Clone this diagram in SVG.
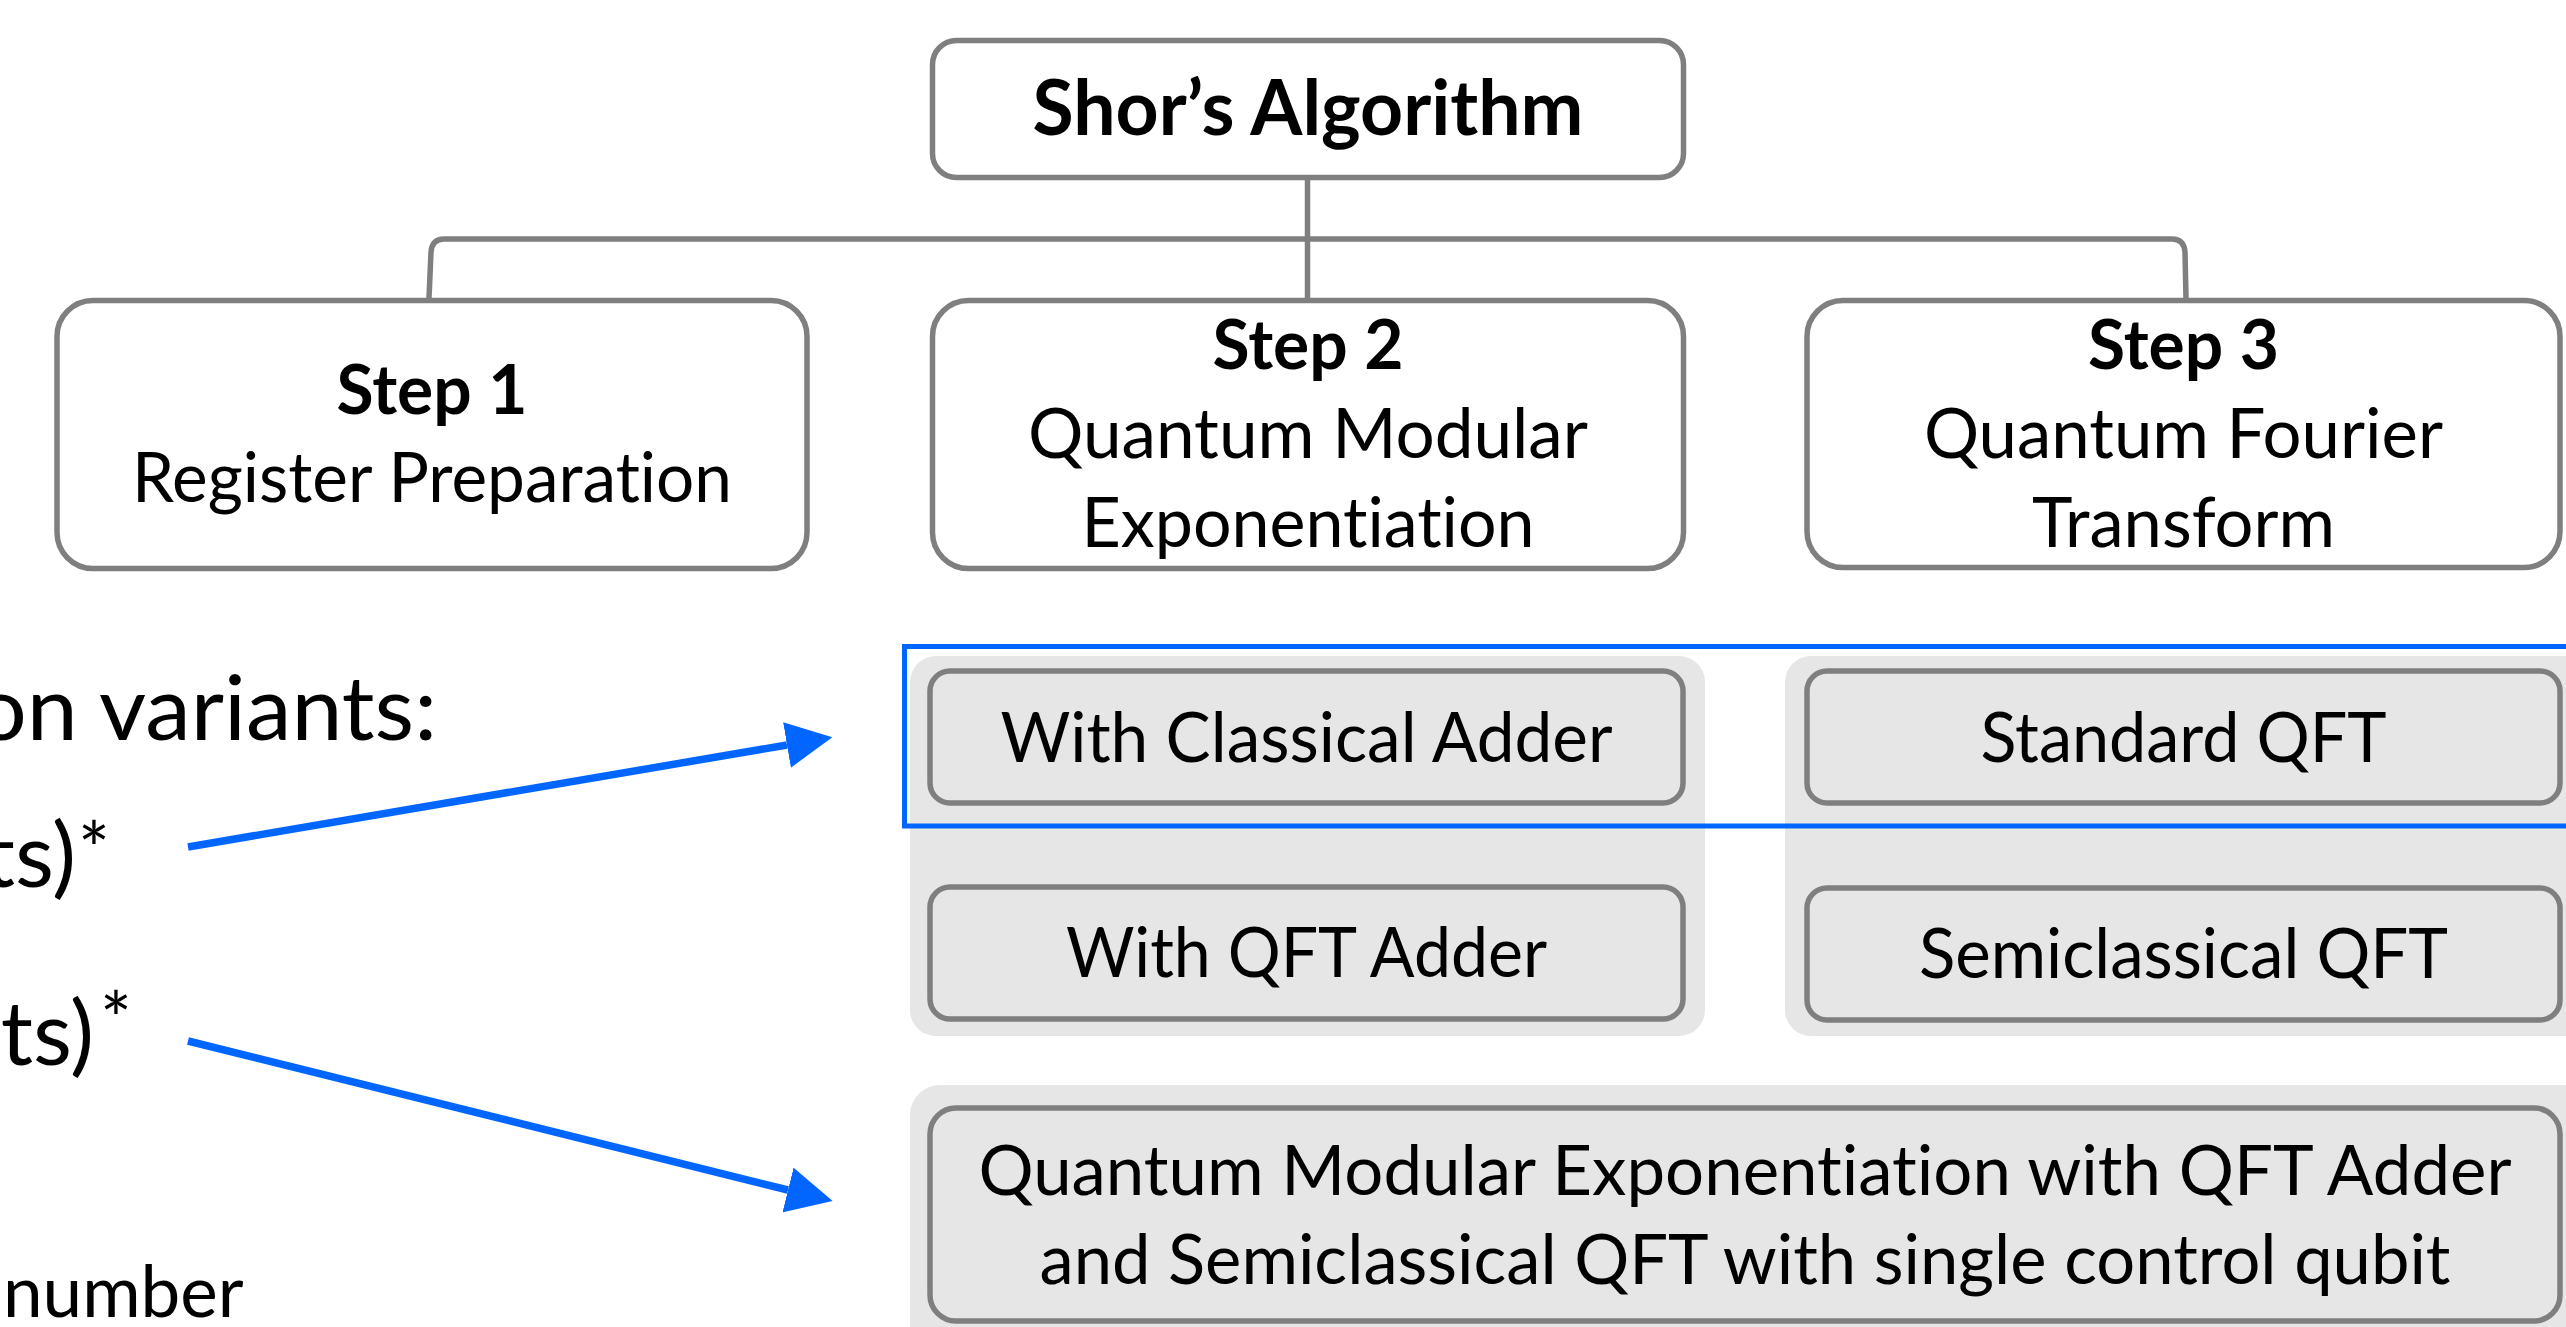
<svg xmlns="http://www.w3.org/2000/svg" width="2566" height="1327" viewBox="0 0 2566 1327">
  <defs>
    <style>
      .box { fill: #ffffff; stroke: #7f7f7f; stroke-width: 5.5; }
      .vbox { fill: #e6e6e6; stroke: #7f7f7f; stroke-width: 5.5; }
      .panel { fill: #e6e6e6; stroke: none; }
      .link { fill: none; stroke: #7f7f7f; stroke-width: 5.5; }
      .hl { fill: none; stroke: #0066ff; stroke-width: 5; }
      .arrow { fill: none; stroke: #0066ff; stroke-width: 7.5; }
      text { font-family: Lato, "Open Sans", sans-serif; fill: #000000; font-variant-ligatures: none; font-feature-settings: "liga" 0, "clig" 0; }
      .t { font-size: 69px; text-anchor: middle; }
      .tb { font-size: 69px; font-weight: bold; text-anchor: middle; }
      .side { font-size: 90px; }
      .star { font-size: 75px; }
    </style>
    <marker id="head" viewBox="0 0 46 46" refX="0" refY="23" markerWidth="46" markerHeight="46" markerUnits="userSpaceOnUse" orient="auto">
      <path d="M0,0 L46,23 L0,46 Z" fill="#0066ff"/>
    </marker>
  </defs>

  <rect width="2566" height="1327" fill="#ffffff"/>

  <!-- tree connectors from the root to the three steps -->
  <g id="connectors">
    <path class="link" d="M1307.5,180 V298"/>
    <path class="link" d="M429,298 L431,252 Q432,239 444,239 H2172 Q2184,239 2185,252 L2186,298"/>
  </g>

  <!-- root -->
  <g id="shor">
    <rect class="box" x="932.5" y="40.5" width="751" height="137" rx="24"/>
    <text class="tb" x="1308" y="135" style="font-size:76px" textLength="551" lengthAdjust="spacingAndGlyphs">Shor’s Algorithm</text>
  </g>

  <!-- steps -->
  <g id="step1">
    <rect class="box" x="57" y="300.5" width="750" height="268" rx="36"/>
    <text class="tb" x="432" y="414" textLength="191" lengthAdjust="spacingAndGlyphs">Step 1</text>
    <text class="t" x="432" y="502" textLength="600" lengthAdjust="spacingAndGlyphs">Register Preparation</text>
  </g>
  <g id="step2">
    <rect class="box" x="932.5" y="300.5" width="751" height="268" rx="36"/>
    <text class="tb" x="1308" y="369" textLength="191" lengthAdjust="spacingAndGlyphs">Step 2</text>
    <text class="t" x="1308" y="458" textLength="560" lengthAdjust="spacingAndGlyphs">Quantum Modular</text>
    <text class="t" x="1308" y="547" textLength="453" lengthAdjust="spacingAndGlyphs">Exponentiation</text>
  </g>
  <g id="step3">
    <rect class="box" x="1807" y="300.5" width="753" height="267" rx="36"/>
    <text class="tb" x="2183.5" y="369" textLength="191" lengthAdjust="spacingAndGlyphs">Step 3</text>
    <text class="t" x="2183.5" y="458" textLength="519" lengthAdjust="spacingAndGlyphs">Quantum Fourier</text>
    <text class="t" x="2183.5" y="547" textLength="303" lengthAdjust="spacingAndGlyphs">Transform</text>
  </g>

  <!-- variant panels -->
  <g id="panel-step2">
    <rect class="panel" x="910" y="656" width="795" height="380" rx="26"/>
  </g>
  <g id="panel-step3">
    <rect class="panel" x="1785" y="656" width="820" height="380" rx="26"/>
  </g>
  <g id="panel-combined">
    <rect class="panel" x="910" y="1085" width="1700" height="300" rx="30"/>
  </g>

  <!-- highlight around the standard variants -->
  <g id="highlight">
    <rect class="hl" x="904.5" y="646.5" width="1720" height="179.5"/>
  </g>

  <g id="classical-adder">
    <rect class="vbox" x="930" y="671" width="753" height="132" rx="20"/>
    <text class="t" x="1306.5" y="762" textLength="612" lengthAdjust="spacingAndGlyphs">With Classical Adder</text>
  </g>
  <g id="standard-qft">
    <rect class="vbox" x="1807" y="671" width="753" height="132" rx="20"/>
    <text class="t" x="2183.5" y="762" textLength="406" lengthAdjust="spacingAndGlyphs">Standard QFT</text>
  </g>
  <g id="qft-adder">
    <rect class="vbox" x="930" y="887" width="753" height="132" rx="20"/>
    <text class="t" x="1306.5" y="977" textLength="481" lengthAdjust="spacingAndGlyphs">With QFT Adder</text>
  </g>
  <g id="semiclassical-qft">
    <rect class="vbox" x="1807" y="888" width="753" height="132" rx="20"/>
    <text class="t" x="2183.5" y="978" textLength="529" lengthAdjust="spacingAndGlyphs">Semiclassical QFT</text>
  </g>
  <g id="combined">
    <rect class="vbox" x="930" y="1108" width="1630" height="213" rx="26"/>
    <text class="t" x="1745" y="1195" textLength="1533" lengthAdjust="spacingAndGlyphs">Quantum Modular Exponentiation with QFT Adder</text>
    <text class="t" x="1745" y="1284" textLength="1411" lengthAdjust="spacingAndGlyphs">and Semiclassical QFT with single control qubit</text>
  </g>

  <!-- side notes -->
  <g id="notes">
    <text class="side" x="437" y="740" text-anchor="end" textLength="462" lengthAdjust="spacingAndGlyphs">on variants:</text>
    <text class="side" x="76" y="887" text-anchor="end">ts)</text>
    <text class="star" x="78" y="877">*</text>
    <text class="side" x="94" y="1065" text-anchor="end">ts)</text>
    <text class="star" x="100" y="1047">*</text>
    <text x="3" y="1317" style="font-size:71px">number</text>
  </g>

  <!-- pointers from the notes to the variants -->
  <g id="arrows">
    <path class="arrow" d="M188,847 L787,745" marker-end="url(#head)"/>
    <path class="arrow" d="M188,1041 L788,1190" marker-end="url(#head)"/>
  </g>
</svg>
